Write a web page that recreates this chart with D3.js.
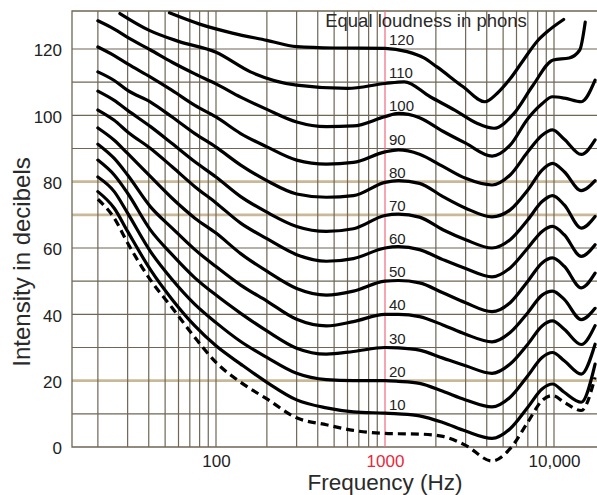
<!DOCTYPE html>
<html>
<head>
<meta charset="utf-8">
<script src="https://cdn.jsdelivr.net/npm/d3@7"></script>
<style>
  body { margin: 0; background: #fff; }
  svg { display: block; font-family: "Liberation Sans", Arial, sans-serif; }
</style>
</head>
<body>
<div id="wrapper"></div>
<script>
// frequencies (Hz) shared by the 100 phon curve and everything below it
const freqs = [20, 25, 30, 41, 55, 75, 100, 140, 200, 300, 450, 650, 1000, 1200, 1600, 2200, 3000, 4300, 5500, 7000, 8500, 9800, 11500, 14500, 17500]

const phon100 = [128.5, 126, 123.5, 119.7, 116, 112.5, 109.5, 105.5, 101.8, 98, 96.6, 96.8, 99.6, 100.6, 99.3, 95.2, 91.6, 87.7, 91, 99, 103.5, 105.6, 105.2, 104.1, 110.6]
const phon90 = [120.6, 118, 115.5, 111.5, 107.5, 103, 99.5, 94.5, 90.5, 86.5, 85.3, 85.8, 89, 89.6, 88.3, 84.6, 81, 79, 82, 89, 94, 95.6, 92.8, 88.2, 92.6]
const phon80 = [113.1, 110.5, 107.5, 104, 99.5, 94.5, 90.4, 85, 80.3, 76.3, 75.3, 75.8, 79.8, 80.3, 79.5, 75.5, 72, 69.4, 71.5, 77.5, 83.5, 85.5, 83, 77.3, 80.3]
const phon70 = [107.3, 104.5, 101.5, 96.6, 91.5, 86, 81.4, 75.5, 70.8, 66.5, 65, 65.8, 69.8, 70.2, 69.3, 65.5, 62.5, 60, 62.5, 68.5, 74, 75.8, 73, 66, 69.5]
const phon60 = [101.6, 98.5, 95, 90, 84.5, 78.5, 73.6, 67.5, 62.8, 58, 56, 56.8, 60, 60.4, 59.5, 56.5, 53.8, 51.3, 54, 60, 65, 66.5, 64, 57.5, 61]
const phon50 = [96.2, 92.5, 88.5, 81.5, 75, 69, 64.5, 58.3, 53, 47.8, 45.8, 47, 50, 50.2, 49.5, 46.5, 43.5, 40.8, 43.5, 50, 55.5, 57, 54.5, 48, 52.4]
const phon40 = [91.3, 87, 82, 72.4, 66, 59.5, 54.4, 48.8, 44, 38.5, 36.5, 37.8, 40, 40, 39.3, 36.8, 34, 31.7, 34.5, 40.5, 45.8, 47, 44.5, 38.4, 41.8]
const phon30 = [86.5, 82, 76.5, 65.4, 58, 51, 45.8, 40.3, 35, 29.8, 28, 28.8, 30, 29.9, 29.2, 26.8, 24.5, 22.2, 25, 31, 36.5, 38, 35.5, 30.9, 36.6]
const phon20 = [81.4, 77, 70.5, 58.9, 50.5, 43, 37.5, 31.8, 27, 22.2, 20.3, 20, 20, 19.8, 19.2, 16.8, 14.2, 12.1, 15, 21.5, 27, 28.5, 26, 22, 31]
const phon10 = [77, 72, 65, 53.4, 44.5, 36.5, 30.5, 25, 19.5, 14.2, 11.8, 10.6, 10.2, 10, 9.4, 7.4, 4.8, 2.6, 5.5, 12, 17.5, 19, 16.5, 13.5, 25]
const threshold = [74.7, 69, 61.5, 50.3, 42, 33, 25.5, 19.5, 14.5, 8.8, 6.7, 5, 4.1, 4, 3.9, 3.2, 0.5, -4.2, -0.5, 7.5, 14, 15.5, 13.5, 11, 21]

// the two loudest curves run off the top of the grid, so they have their own frequencies
const freqs120 = [53, 80, 125, 200, 300, 500, 1000, 1350, 1700, 2030, 2900, 3900, 4600, 5500, 6600, 8000, 9100, 11400]
const phon120 = [130.9, 127.5, 124.8, 122.6, 120.7, 120.3, 120.2, 119.2, 117.3, 114.6, 108.6, 104.1, 106.6, 111, 116.7, 122.5, 125.2, 128.9]
const freqs110 = [27, 40, 60, 100, 160, 300, 600, 1000, 1300, 1850, 2600, 3500, 4400, 5800, 7500, 9900, 12300, 14200, 15300]
const phon110 = [130.7, 125.7, 122.3, 119, 113.1, 109.1, 108.1, 109.6, 110.1, 105.6, 101.5, 97.6, 96.1, 100.6, 109, 116.7, 117.3, 119.7, 128.1]

const phonLabels = [120, 110, 100, 90, 80, 70, 60, 50, 40, 30, 20, 10]
const yTicks = [0, 20, 40, 60, 80, 100, 120]
const xTicks = [100, 1000, 10000]
const xTickLabels = ["100", "1000", "10,000"]
const hGrid = [10, 20, 30, 40, 50, 60, 70, 80, 90, 100, 110, 120]
const tanLines = [20, 70, 80]
const vGrid = [20, 30, 40, 50, 60, 70, 80, 90, 100,
  200, 300, 400, 500, 600, 700, 800, 900,
  2000, 3000, 4000, 5000, 6000, 7000, 8000, 9000, 10000]

const curves = [
  { level: 120, f: freqs120, v: phon120 },
  { level: 110, f: freqs110, v: phon110 },
  { level: 100, f: freqs, v: phon100 },
  { level: 90, f: freqs, v: phon90 },
  { level: 80, f: freqs, v: phon80 },
  { level: 70, f: freqs, v: phon70 },
  { level: 60, f: freqs, v: phon60 },
  { level: 50, f: freqs, v: phon50 },
  { level: 40, f: freqs, v: phon40 },
  { level: 30, f: freqs, v: phon30 },
  { level: 20, f: freqs, v: phon20 },
  { level: 10, f: freqs, v: phon10 },
]

let dimensions = {
  width: 597,
  height: 495,
  margin: { top: 11, right: -3, bottom: 48, left: 72 }
}
dimensions.boundedWidth = dimensions.width - dimensions.margin.left - dimensions.margin.right
dimensions.boundedHeight = dimensions.height - dimensions.margin.top - dimensions.margin.bottom

const svg = d3.select("#wrapper")
  .append("svg")
    .attr("width", dimensions.width)
    .attr("height", dimensions.height)

const bounds = svg.append("g")
    .attr("transform", `translate(${dimensions.margin.left},${dimensions.margin.top})`)

const xScale = d3.scaleLog()
    .domain([100, 10000])
    .range([144, 482])

const yScale = d3.scaleLinear()
    .domain([0, 120])
    .range([dimensions.boundedHeight, 38])

const gridColor = "#6f6656"

// horizontal grid
bounds.append("g")
  .selectAll("line")
  .data(hGrid.filter(d => !tanLines.includes(d)))
  .join("line")
    .attr("x1", 0)
    .attr("x2", dimensions.boundedWidth)
    .attr("y1", d => yScale(d))
    .attr("y2", d => yScale(d))
    .attr("stroke", gridColor)
    .attr("stroke-width", 1.2)

bounds.append("g")
  .selectAll("line")
  .data(tanLines)
  .join("line")
    .attr("x1", 0)
    .attr("x2", dimensions.boundedWidth)
    .attr("y1", d => yScale(d))
    .attr("y2", d => yScale(d))
    .attr("stroke", "#c9b999")
    .attr("stroke-width", 2.6)

// vertical grid
bounds.append("g")
  .selectAll("line")
  .data(vGrid)
  .join("line")
    .attr("x1", d => xScale(d))
    .attr("x2", d => xScale(d))
    .attr("y1", 0)
    .attr("y2", dimensions.boundedHeight)
    .attr("stroke", gridColor)
    .attr("stroke-width", 1.2)

// frame: top, left, bottom
bounds.append("path")
    .attr("d", `M${dimensions.boundedWidth},0H0V${dimensions.boundedHeight}H${dimensions.boundedWidth}`)
    .attr("fill", "none")
    .attr("stroke", gridColor)
    .attr("stroke-width", 1.3)

// 1000 Hz reference
bounds.append("line")
    .attr("x1", xScale(1000))
    .attr("x2", xScale(1000))
    .attr("y1", 0)
    .attr("y2", dimensions.boundedHeight)
    .attr("stroke", "#f06a80")
    .attr("stroke-width", 1.2)

bounds.append("clipPath")
    .attr("id", "plot-clip")
  .append("rect")
    .attr("width", dimensions.boundedWidth)
    .attr("height", dimensions.boundedHeight + 30)

const lineGenerator = d3.line()
    .x(d => xScale(d[0]))
    .y(d => yScale(d[1]))
    .curve(d3.curveMonotoneX)

const curveGroup = bounds.append("g")
    .attr("clip-path", "url(#plot-clip)")

curveGroup.selectAll("path.phon")
  .data(curves)
  .join("path")
    .attr("class", "phon")
    .attr("d", c => lineGenerator(c.f.map((f, i) => [f, c.v[i]])))
    .attr("fill", "none")
    .attr("stroke", "#000")
    .attr("stroke-width", 3.2)
    .attr("stroke-linecap", "round")

curveGroup.append("path")
    .attr("d", lineGenerator(freqs.map((f, i) => [f, threshold[i]])))
    .attr("fill", "none")
    .attr("stroke", "#000")
    .attr("stroke-width", 3.2)
    .attr("stroke-dasharray", "8,5")

// curve labels just right of the 1000 Hz line
bounds.append("g")
  .selectAll("text")
  .data(phonLabels)
  .join("text")
    .attr("x", xScale(1000) + 4)
    .attr("y", d => yScale(d) - 4)
    .attr("font-size", 15)
    .attr("fill", "#222")
    .text(d => d)

bounds.append("text")
    .attr("x", 354)
    .attr("y", 16)
    .attr("text-anchor", "middle")
    .attr("font-size", 18.5)
    .attr("fill", "#2a2a2a")
    .text("Equal loudness in phons")

// axes (labels only)
const yAxisGenerator = d3.axisLeft()
    .scale(yScale)
    .tickValues(yTicks)
    .tickSize(0)
    .tickPadding(10)
const yAxis = bounds.append("g").call(yAxisGenerator)
yAxis.select(".domain").remove()
yAxis.selectAll("text")
    .attr("font-size", 17)
    .attr("dy", "0.4em")
    .attr("fill", "#222")

const xAxisGenerator = d3.axisBottom()
    .scale(xScale)
    .tickValues(xTicks)
    .tickFormat((d, i) => xTickLabels[i])
    .tickSize(0)
    .tickPadding(8)
const xAxis = bounds.append("g")
    .attr("transform", `translate(0,${dimensions.boundedHeight})`)
    .call(xAxisGenerator)
xAxis.select(".domain").remove()
xAxis.selectAll("text")
    .attr("font-size", 17)
    .attr("fill", d => d === 1000 ? "#e8283c" : "#222")

svg.append("text")
    .attr("x", 385)
    .attr("y", 490)
    .attr("text-anchor", "middle")
    .attr("font-size", 22.5)
    .attr("fill", "#2a2a2a")
    .text("Frequency (Hz)")

svg.append("text")
    .attr("transform", "translate(30,262) rotate(-90)")
    .attr("text-anchor", "middle")
    .attr("font-size", 24)
    .attr("fill", "#2a2a2a")
    .text("Intensity in decibels")
</script>
</body>
</html>
